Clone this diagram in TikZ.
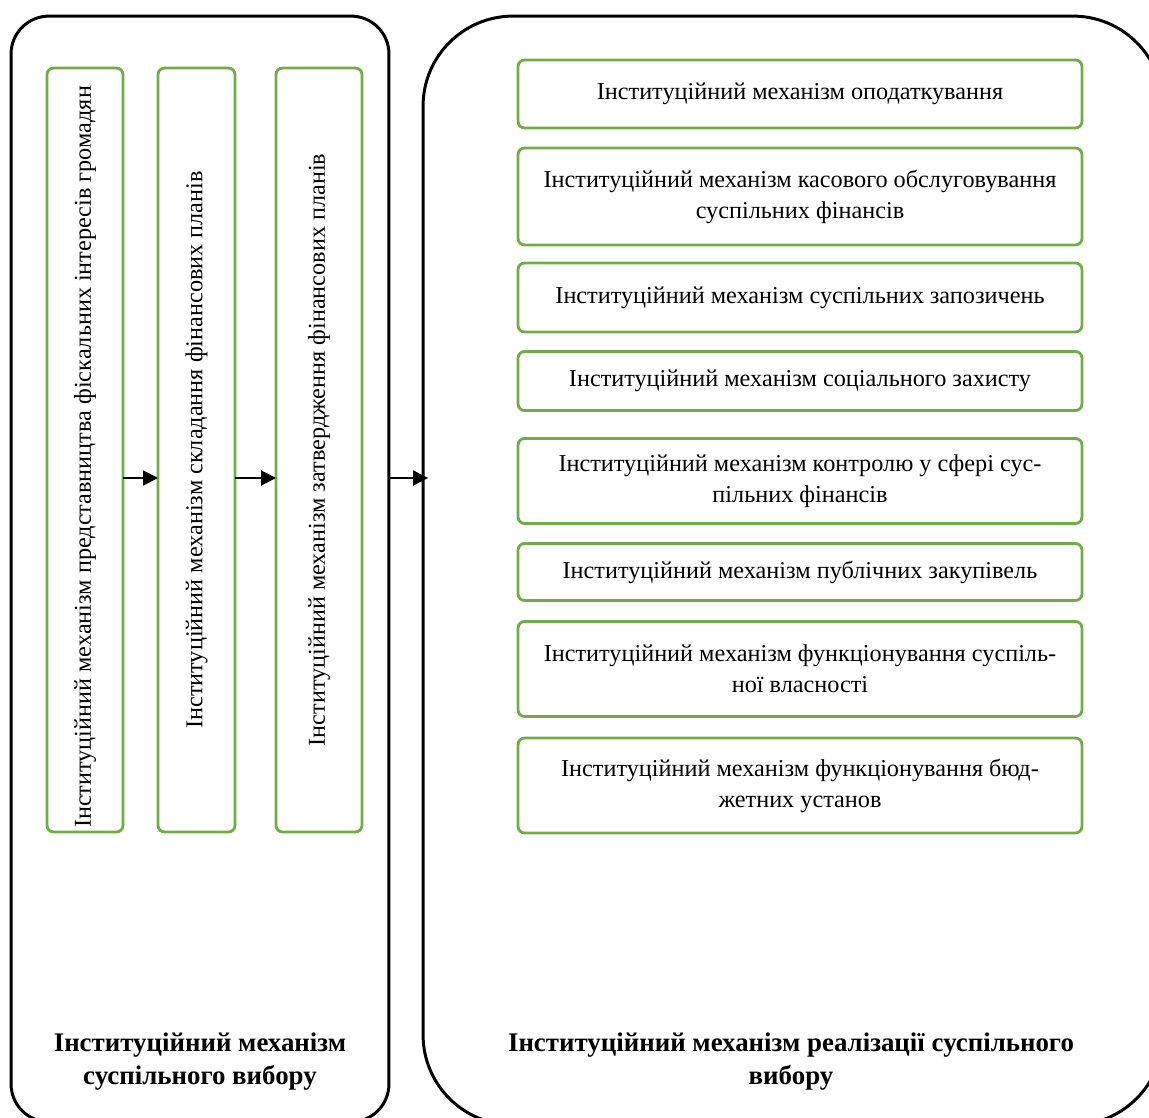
\documentclass[tikz,border=0pt]{standalone}
\usepackage{fontspec}
\setmainfont{Liberation Serif}
\usepackage{xcolor}
\usepackage{tikz}
\usetikzlibrary{arrows.meta}
\usetikzlibrary{positioning}
\definecolor{gboxgreen}{HTML}{70AD47}
\tikzset{
    outbox/.style = {draw=black, line width=1.7pt, inner sep=0pt, outer sep=0pt},
    gbox/.style = {draw=gboxgreen, line width=1.6pt, rounded corners=0.13cm, align=center, inner sep=0pt, outer sep=0pt, font=\fontsize{13.8}{17.6}\selectfont},
    wbox/.style = {gbox, minimum width=11.28cm},
    vtext/.style = {rotate=90, font=\fontsize{13.8}{17.6}\selectfont},
    blabel/.style = {align=center, font=\bfseries\fontsize{15.3}{18.8}\selectfont},
    arrowline/.style = {-{Triangle[length=0.3cm,width=0.3cm]}, line width=1.1pt}
}
\begin{document}
\begin{tikzpicture}[x=0.02cm, y=-0.02cm]
\useasboundingbox (0,0) rectangle (1149,1118);
\clip (0,0) rectangle (1149,1118);
% outer frames
\node[outbox, rounded corners=0.76cm, minimum width=7.56cm, minimum height=22.12cm] at (200,569) (outL) {};
\node[outbox, rounded corners=1.8cm, minimum width=14.8cm, minimum height=22.18cm] at (793,570.5) (outR) {};
%
\node[blabel] at (200,1062) (labL) {Інституційний механізм\\суспільного вибору};
\node[blabel] at (791,1062) (labR) {Інституційний механізм реалізації суспільного\\вибору};
% left column
\node[gbox, minimum width=1.52cm, minimum height=15.28cm] at (85,450) (p1) {};
\node[gbox, minimum width=1.54cm, minimum height=15.28cm] at (196.5,450) (p2) {};
\node[gbox, minimum width=1.72cm, minimum height=15.28cm] at (319,450) (p3) {};
\node[vtext] at ([yshift=-0.14cm]p1.center) (t1) {Інституційний механізм представництва фіскальних інтересів громадян};
\node[vtext] at (p2.center) (t2) {Інституційний механізм складання фінансових планів};
\node[vtext] at (p3.center) (t3) {Інституційний механізм затвердження фінансових планів};
% right column
\node[wbox, minimum height=1.36cm] at (800,94) (r1) {Інституційний механізм оподаткування};
\node[wbox, minimum height=1.94cm] at (800,196.5) (r2) {Інституційний механізм касового обслуговування\\суспільних фінансів};
\node[wbox, minimum height=1.38cm] at (800,297.5) (r3) {Інституційний механізм суспільних запозичень};
\node[wbox, minimum height=1.18cm] at (800,381) (r4) {Інституційний механізм соціального захисту};
\node[wbox, minimum height=1.70cm] at (800,481) (r5) {Інституційний механізм контролю у сфері сус-\\пільних фінансів};
\node[wbox, minimum height=1.14cm] at (800,572) (r6) {Інституційний механізм публічних закупівель};
\node[wbox, minimum height=1.90cm] at (800,669) (r7) {Інституційний механізм функціонування суспіль-\\ної власності};
\node[wbox, minimum height=1.90cm] at (800,785.5) (r8) {Інституційний механізм функціонування бюд-\\жетних установ};
% arrows
\coordinate (ay) at (0,478);
\draw[arrowline] (p1.east |- ay) -- (p2.west |- ay);
\draw[arrowline] (p2.east |- ay) -- (p3.west |- ay);
\draw[arrowline] (outL.east |- ay) -- ([xshift=0.1cm]outR.west |- ay);
\end{tikzpicture}
\end{document}
